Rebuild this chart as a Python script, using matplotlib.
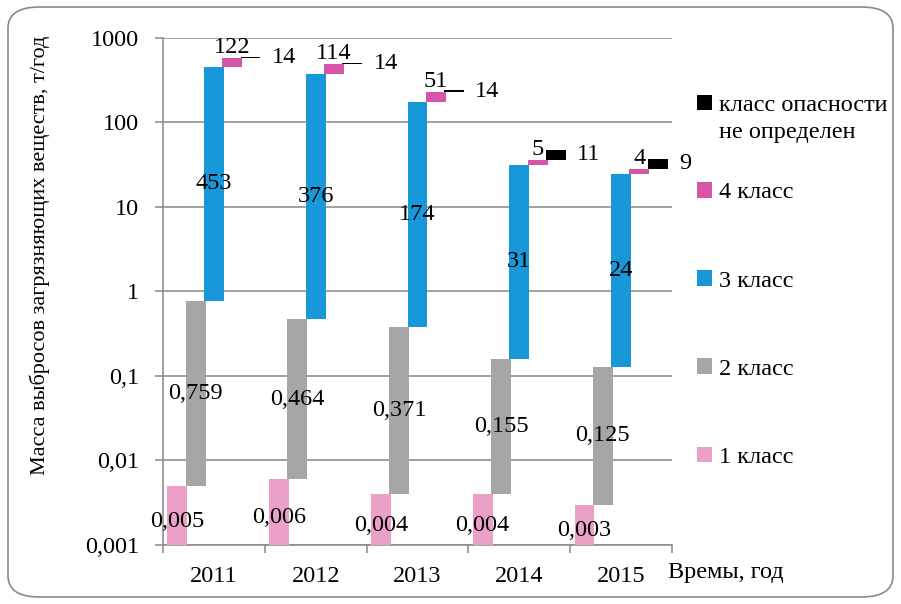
import matplotlib
matplotlib.use("Agg")
import matplotlib.pyplot as plt
import numpy as np
from matplotlib.patches import FancyBboxPatch, Patch
from matplotlib.ticker import FixedLocator

years = ["2011", "2012", "2013", "2014", "2015"]
class1 = [0.005, 0.006, 0.004, 0.004, 0.003]
class2 = [0.759, 0.464, 0.371, 0.155, 0.125]
class3 = [453, 376, 174, 31, 24]
class4 = [122, 114, 51, 5, 4]
class_na = [14, 14, 14, 11, 9]
series_names = ["1 класс", "2 класс", "3 класс", "4 класс", "класс опасности\nне определен"]
colors = ["#EBA0C7", "#A6A6A6", "#1898D9", "#D655AA", "#000000"]
ytick_vals = [0.001, 0.01, 0.1, 1, 10, 100, 1000]
ytick_labels = ["0,001", "0,01", "0,1", "1", "10", "100", "1000"]
ylabel = "Масса выбросов загрязняющих веществ, т/год"
xlabel = "Времы, год"

plt.rcParams['font.family'] = ['Liberation Serif', 'DejaVu Serif']
FS = 17.5

fig = plt.figure(figsize=(9.01, 6.04), dpi=100)
ax = fig.add_axes([163/901, 1-545/604, (672-163)/901, (545-37.7)/604])

# rounded frame
frame = FancyBboxPatch((8/901, 7/604), (893-8)/901, (597-7)/604,
                       boxstyle="round,pad=0,rounding_size=0.035",
                       transform=fig.transFigure, facecolor="none",
                       edgecolor="#8a8a8a", lw=1.2, zorder=0)
fig.patches.append(frame)

series = [class1, class2, class3, class4, class_na]
x = np.arange(len(years))
offsets = [-0.36, -0.18, 0.0, 0.18, 0.36]
width = 0.195
bottom = np.full(len(years), 0.001)
handles = []
for k, (vals, col, off) in enumerate(zip(series, colors, offsets)):
    vals = np.array(vals, dtype=float)
    b = bottom.copy()
    h = vals - 0.001 if k == 0 else vals
    ax.bar(x + off, h, width=width, bottom=b, color=col, zorder=3, linewidth=0)
    top = b + h
    for i in range(len(years)):
        lab = f"{vals[i]:g}".replace('.', ',')
        mid = np.sqrt(b[i] * top[i])
        if k == 0:
            ax.annotate(lab, (x[i] + off, mid), xytext=(0, -4), textcoords='offset points',
                        ha='center', va='center', fontsize=FS, zorder=5)
        elif k < 3:
            ax.text(x[i] + off, mid, lab, ha='center', va='center', fontsize=FS, zorder=5)
        elif k == 3:
            ax.annotate(lab, (x[i] + off, top[i]), xytext=(0, 0), textcoords='offset points',
                        ha='center', va='bottom', fontsize=FS, zorder=5)
        else:
            ax.annotate(lab, (x[i] + off + width/2, mid), xytext=(8, 0), textcoords='offset points',
                        ha='left', va='center', fontsize=FS, zorder=5)
    bottom = top
    handles.append(Patch(facecolor=col, label=series_names[k]))

ax.set_yscale('log')
ax.set_ylim(0.001, 1000)
ax.set_xlim(-0.5, len(years) - 0.5)
ax.yaxis.set_major_locator(FixedLocator(ytick_vals))
ax.set_yticklabels(ytick_labels)
ax.yaxis.set_minor_locator(FixedLocator([]))
ax.yaxis.grid(True, color="#888888", lw=1.1, zorder=1)
ax.set_axisbelow(True)

ax.set_xticks(x)
ax.set_xticklabels(years)
ax.xaxis.set_minor_locator(FixedLocator(np.arange(-0.5, len(years), 1.0)))
ax.tick_params(axis='x', which='major', length=0, pad=15, labelsize=FS)
ax.tick_params(axis='x', which='minor', length=6, color="#888888", width=1.1)
ax.tick_params(axis='y', which='major', length=6, color="#888888", width=1.1, pad=11, labelsize=FS)

for s in ['top', 'right']:
    ax.spines[s].set_visible(False)
for s in ['left', 'bottom']:
    ax.spines[s].set_color("#888888")
    ax.spines[s].set_linewidth(1.1)

fig.text(40/901, 1-255/604, ylabel, rotation=90, ha='center', va='center', fontsize=16)

ax.annotate(xlabel, (1.0, 0), xycoords='axes fraction', xytext=(-3, -20), textcoords='offset points',
            ha='left', va='center', fontsize=FS)

# legend: first (two-line) entry
na_handles = [handles[4], Patch(facecolor='none', edgecolor='none')]
na_labels = series_names[4].split("\n")
leg1 = fig.legend(handles=na_handles, labels=na_labels, loc='center left',
                  bbox_to_anchor=(697/901, 1-119/604),
                  frameon=False, fontsize=FS, handlelength=0.6, handleheight=0.6,
                  handletextpad=0.3, labelspacing=0.25, borderaxespad=0, borderpad=0)
leg2 = fig.legend(handles=handles[3::-1], loc='center left',
                  bbox_to_anchor=(697/901, 1-325/604),
                  frameon=False, fontsize=FS, handlelength=0.6, handleheight=0.6,
                  handletextpad=0.3, labelspacing=2.75, borderaxespad=0, borderpad=0)

fig.savefig("out.png", dpi=100)
